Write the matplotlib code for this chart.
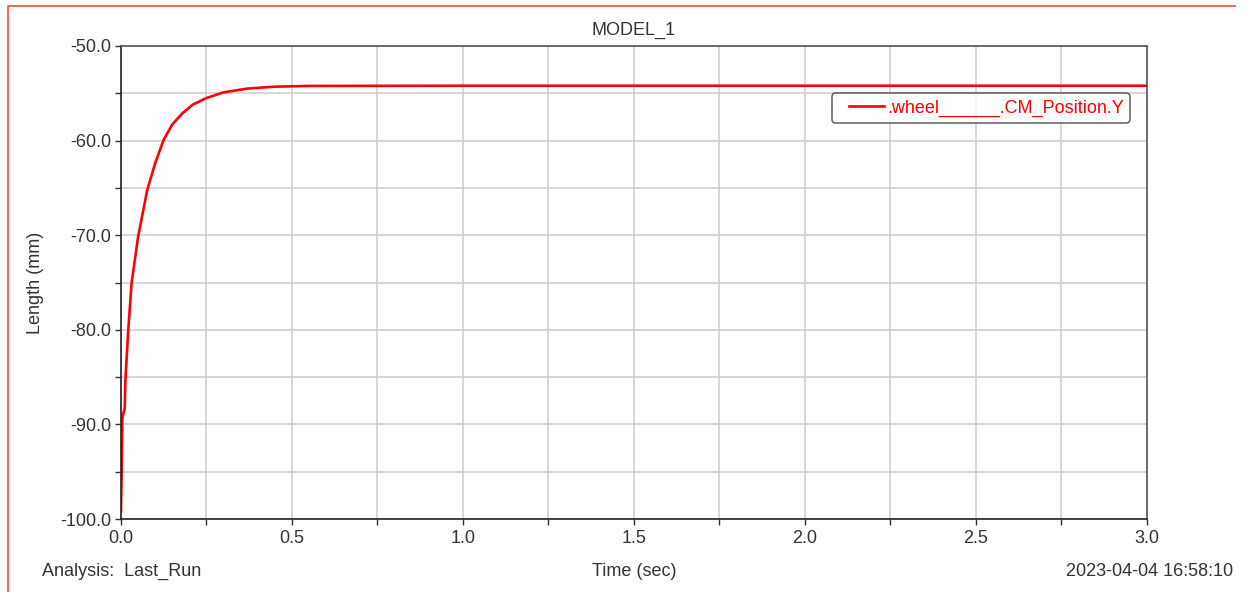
import numpy as np
import matplotlib.pyplot as plt
from matplotlib.lines import Line2D
from matplotlib.legend_handler import HandlerLine2D
from matplotlib.ticker import MultipleLocator

plt.rcParams['font.family'] = ['Liberation Sans', 'DejaVu Sans']

# wheel CM position Y (mm)
time_s = [0.0, 0.002, 0.004, 0.011, 0.013, 0.021, 0.031, 0.050, 0.077, 0.100,
          0.125, 0.15, 0.18, 0.21, 0.25, 0.30, 0.37, 0.45, 0.55, 1.0, 2.0, 3.0]
pos_y = [-99.2, -95.0, -89.3, -88.3, -85.3, -80.2, -75.1, -70.2, -65.2, -62.4,
         -59.9, -58.3, -57.1, -56.2, -55.5, -54.9, -54.5, -54.3, -54.22, -54.2,
         -54.2, -54.2]

TXT = '#333333'
FS = 13
fig = plt.figure(figsize=(12.47, 5.92), dpi=100)
ax = fig.add_axes([0.0970, 0.1233, 0.8228, 0.7990])

line, = ax.plot(time_s, pos_y, color='#ff0000', lw=1.9, label='.wheel______.CM_Position.Y')

ax.set_xlim(0, 3.0)
ax.set_ylim(-100, -50)
ax.xaxis.set_major_locator(MultipleLocator(0.5))
ax.xaxis.set_minor_locator(MultipleLocator(0.25))
ax.yaxis.set_major_locator(MultipleLocator(10))
ax.yaxis.set_minor_locator(MultipleLocator(5))
ax.xaxis.set_major_formatter(lambda v, p: f'{v:.1f}')
ax.yaxis.set_major_formatter(lambda v, p: f'{v:.1f}')
ax.grid(True, which='both', color='#cccccc', lw=1.1)
ax.set_axisbelow(True)
ax.tick_params(which='both', direction='out', length=4, width=1, color='#333333',
               labelsize=FS, labelcolor=TXT)
ax.tick_params(axis='y', pad=3)
ax.tick_params(axis='x', pad=4)
for s in ax.spines.values():
    s.set_color('#555555')
    s.set_linewidth(1.2)
ax.spines['left'].set_color('#222222')
ax.spines['bottom'].set_color('#222222')

ax.set_title('MODEL_1', fontsize=FS, color=TXT, pad=8)
ax.set_ylabel('Length (mm)', fontsize=FS, color=TXT)
ax.yaxis.set_label_coords(-0.075, 0.5)

# shorter line drawn at the right of the handle box, like the reference
leg = ax.legend(loc='upper right', bbox_to_anchor=(0.9834, 0.9006), fontsize=FS,
                frameon=True, fancybox=True, edgecolor='#444444', handlelength=2.55,
                borderpad=0.35, handletextpad=0.15, borderaxespad=0,
                handler_map={line: HandlerLine2D(xpad=0.6)})
leg.get_frame().set_linewidth(1.2)
for t in leg.get_texts():
    t.set_color('#ff0000')

fig.text(0.5085, 0.034, 'Time (sec)', ha='center', va='center', fontsize=FS, color=TXT)
fig.text(0.034, 0.034, 'Analysis:  Last_Run', ha='left', va='center', fontsize=FS, color=TXT)
fig.text(0.989, 0.034, '2023-04-04 16:58:10', ha='right', va='center', fontsize=FS, color=TXT)

# red window frame
fig.add_artist(Line2D([8 / 1247, 8 / 1247, 1235 / 1247], [0, 1 - 6 / 592, 1 - 6 / 592],
                      transform=fig.transFigure, color='#ff5050', lw=1.3))

fig.savefig('out.png', dpi=100)
